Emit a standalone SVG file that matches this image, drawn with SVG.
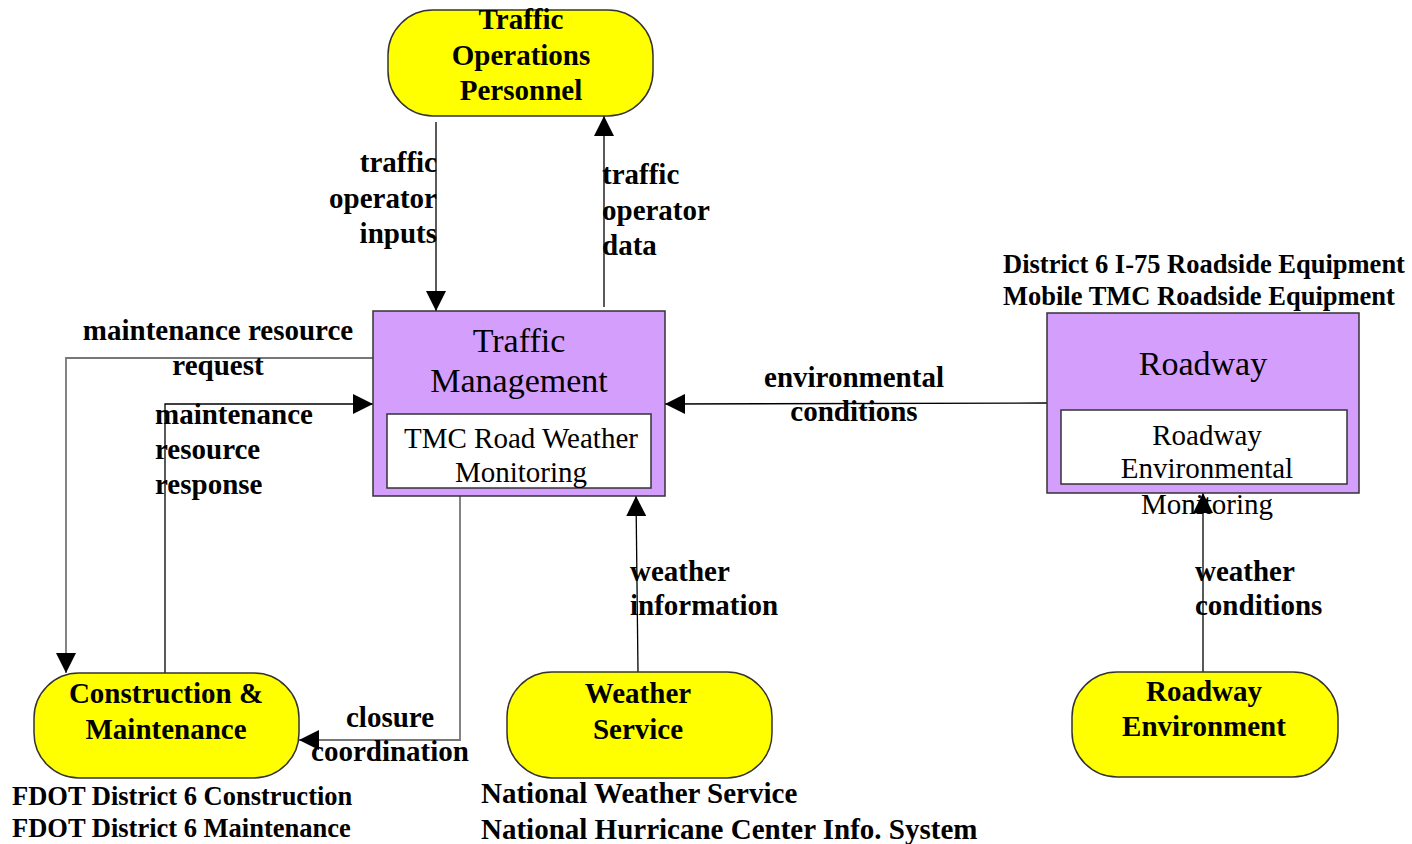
<svg xmlns="http://www.w3.org/2000/svg" width="1412" height="844" viewBox="0 0 1412 844">
<defs>
<marker id="arr" markerUnits="userSpaceOnUse" markerWidth="20" markerHeight="20" refX="20" refY="10" orient="auto" viewBox="0 0 20 20">
<path d="M0,0 L20,10 L0,20 Z" fill="#000"/>
</marker>
</defs>
<style>
.term{fill:#FFFF00;stroke:#333;stroke-width:1.5}
.sys{fill:#D49EFD;stroke:#333;stroke-width:1.5}
.inner{fill:#fff;stroke:#333;stroke-width:1.5}
.bt{font-family:"Liberation Serif","Times New Roman",serif;font-weight:bold;font-size:29px;fill:#000}
.ext{font-family:"Liberation Serif","Times New Roman",serif;font-weight:bold;font-size:26.5px;fill:#000}
.rt{font-family:"Liberation Serif","Times New Roman",serif;font-size:34px;fill:#000}
.it{font-family:"Liberation Serif","Times New Roman",serif;font-size:29px;fill:#000}
.c{text-anchor:middle}
.e{text-anchor:end}
.lk{fill:none;stroke:#000;stroke-width:1.3}
.lg{fill:none;stroke:#777;stroke-width:1.8}
</style>
<rect width="1412" height="844" fill="#fff"/>
<g id="connectors">
<path class="lk" d="M436,122 L436,311" marker-end="url(#arr)"/>
<path class="lk" d="M604,307 L604,116" marker-end="url(#arr)"/>
<path class="lg" d="M373,358 L66,358 L66,673" marker-end="url(#arr)"/>
<path class="lk" d="M165,673 L165,404 L373,404" marker-end="url(#arr)"/>
<path class="lg" d="M460,496 L460,740 L299,740" marker-end="url(#arr)"/>
<path class="lk" d="M638,672 L636,496" marker-end="url(#arr)"/>
<path class="lk" d="M1047,403 L665,404" marker-end="url(#arr)"/>
<path class="lk" d="M1203,672 L1203,493" marker-end="url(#arr)"/>
</g>
<g id="tm">
<rect class="sys" x="373" y="311" width="292" height="185"/>
<text class="rt c" x="519" y="352">Traffic</text>
<text class="rt c" x="519" y="392">Management</text>
<rect class="inner" x="387" y="414" width="264" height="74"/>
<text class="it c" x="521" y="448">TMC Road Weather</text>
<text class="it c" x="521" y="482">Monitoring</text>
</g>
<g id="roadway">
<rect class="sys" x="1047" y="313" width="312" height="180"/>
<text class="rt c" x="1203" y="375">Roadway</text>
<rect class="inner" x="1061" y="410" width="286" height="74"/>
<text class="it c" x="1207" y="445">Roadway</text>
<text class="it c" x="1207" y="478">Environmental</text>
<text class="it c" x="1207" y="514">Monitoring</text>
<text class="ext" x="1003" y="273">District 6 I-75 Roadside Equipment</text>
<text class="ext" x="1003" y="305">Mobile TMC Roadside Equipment</text>
</g>
<g id="top">
<rect class="term" x="388" y="10" width="265" height="106" rx="45"/>
<text class="bt c" x="521" y="29">Traffic</text>
<text class="bt c" x="521" y="65">Operations</text>
<text class="bt c" x="521" y="100">Personnel</text>
</g>
<g id="cm">
<rect class="term" x="34" y="673" width="265" height="105" rx="45"/>
<text class="bt c" x="166" y="703">Construction &amp;</text>
<text class="bt c" x="166" y="739">Maintenance</text>
<text class="ext" x="12" y="805">FDOT District 6 Construction</text>
<text class="ext" x="12" y="837">FDOT District 6 Maintenance</text>
</g>
<g id="ws">
<rect class="term" x="507" y="672" width="265" height="106" rx="45"/>
<text class="bt c" x="638" y="703">Weather</text>
<text class="bt c" x="638" y="739">Service</text>
<text class="bt" x="481" y="803">National Weather Service</text>
<text class="bt" x="481" y="839">National Hurricane Center Info. System</text>
</g>
<g id="re">
<rect class="term" x="1072" y="672" width="266" height="105" rx="45"/>
<text class="bt c" x="1204" y="701">Roadway</text>
<text class="bt c" x="1204" y="736">Environment</text>
</g>
<g id="labels">
<text class="bt e" x="437" y="172">traffic</text>
<text class="bt e" x="437" y="208">operator</text>
<text class="bt e" x="437" y="243">inputs</text>
<text class="bt" x="602" y="184">traffic</text>
<text class="bt" x="602" y="220">operator</text>
<text class="bt" x="602" y="255">data</text>
<text class="bt c" x="218" y="340">maintenance resource</text>
<text class="bt c" x="218" y="375">request</text>
<text class="bt" x="155" y="424">maintenance</text>
<text class="bt" x="155" y="459">resource</text>
<text class="bt" x="155" y="494">response</text>
<text class="bt c" x="390" y="727">closure</text>
<text class="bt c" x="390" y="761">coordination</text>
<text class="bt" x="630" y="581">weather</text>
<text class="bt" x="630" y="615">information</text>
<text class="bt c" x="854" y="387">environmental</text>
<text class="bt c" x="854" y="421">conditions</text>
<text class="bt" x="1195" y="581">weather</text>
<text class="bt" x="1195" y="615">conditions</text>
</g>
</svg>
